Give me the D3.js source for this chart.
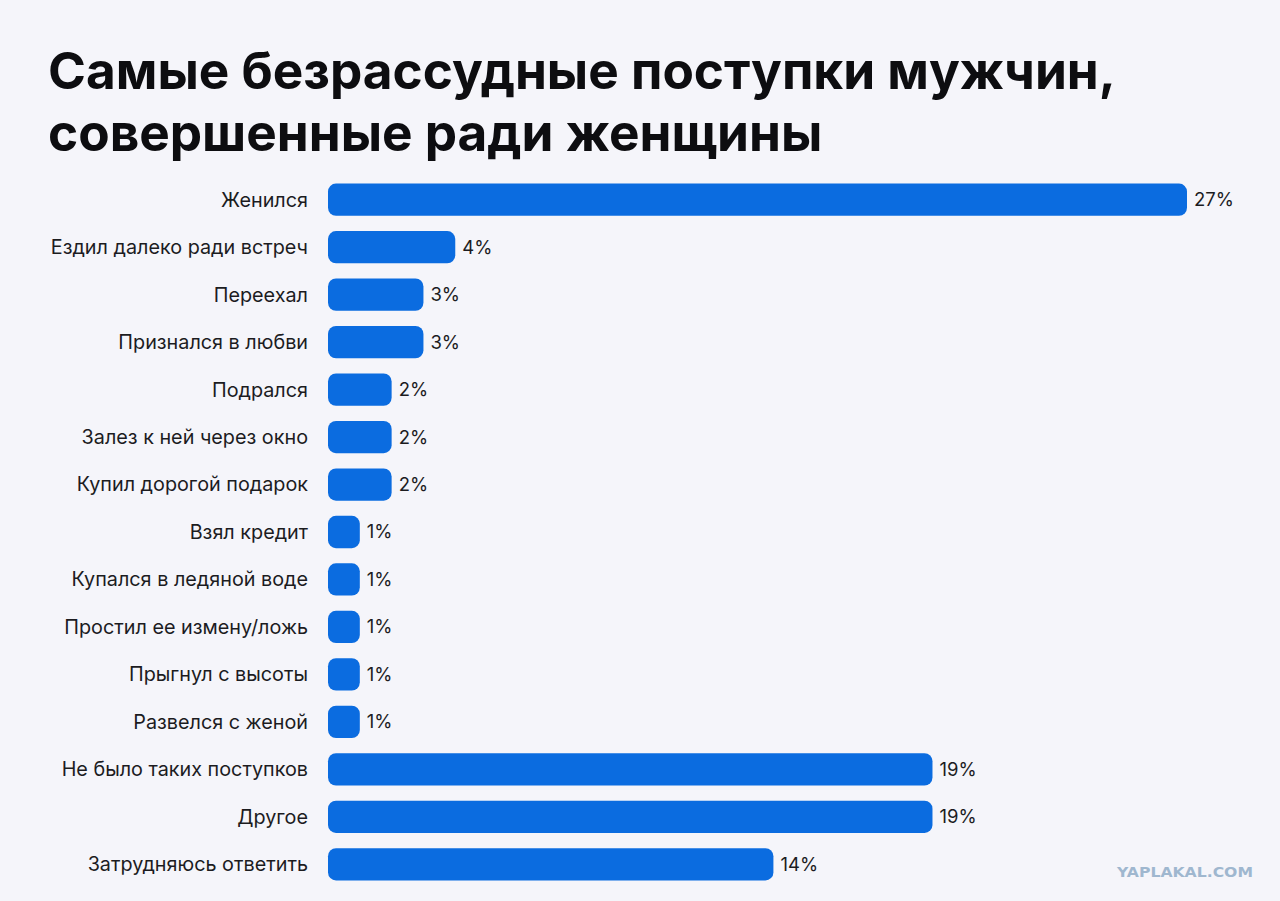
<!DOCTYPE html>
<html>
<head>
<meta charset="utf-8">
<script src="https://cdn.jsdelivr.net/npm/d3@7"></script>
<style>
  html, body { margin: 0; padding: 0; background: #f5f5fa; }
  svg { display: block; }
</style>
</head>
<body>
<div id="chart"></div>
<script>
// Data
const titleLines = ['Самые безрассудные поступки мужчин,', 'совершенные ради женщины'];
const categories = [
  'Женился',
  'Ездил далеко ради встреч',
  'Переехал',
  'Признался в любви',
  'Подрался',
  'Залез к ней через окно',
  'Купил дорогой подарок',
  'Взял кредит',
  'Купался в ледяной воде',
  'Простил ее измену/ложь',
  'Прыгнул с высоты',
  'Развелся с женой',
  'Не было таких поступков',
  'Другое',
  'Затрудняюсь ответить'
];
const values = [27, 4, 3, 3, 2, 2, 2, 1, 1, 1, 1, 1, 19, 19, 14];
const watermark = 'YAPLAKAL.COM';

const width = 1280, height = 901;
const barColor = '#0b6ce0';
const textColor = '#1c1c1f';

const svg = d3.select('#chart')
  .append('svg')
  .attr('width', width)
  .attr('height', height);

svg.append('rect')
  .attr('width', width)
  .attr('height', height)
  .attr('fill', '#f5f5fa');

// Title
svg.append('g')
  .selectAll('text')
  .data(titleLines)
  .enter()
  .append('text')
  .attr('x', 48)
  .attr('y', (d, i) => 89 + i * 62)
  .attr('font-family', 'Inter, "Noto Sans", sans-serif')
  .attr('font-weight', 700)
  .attr('font-size', '51.3px')
  .attr('fill', '#0d0d10')
  .text(d => d);

// Scales
const x = d3.scaleLinear()
  .domain([0, 27])
  .range([328, 1187]);

const y = d3.scaleBand()
  .domain(categories)
  .range([176, 888])
  .paddingInner(0.32)
  .paddingOuter(0.16);

// Category labels
svg.append('g')
  .selectAll('text')
  .data(categories)
  .enter()
  .append('text')
  .attr('x', 308)
  .attr('y', d => y(d) + y.bandwidth() / 2)
  .attr('dy', '0.35em')
  .attr('text-anchor', 'end')
  .attr('font-family', 'Inter, "Noto Sans", sans-serif')
  .attr('font-size', '19.8px')
  .attr('fill', textColor)
  .text(d => d);

// Bars
svg.append('g')
  .selectAll('rect')
  .data(values)
  .enter()
  .append('rect')
  .attr('x', x(0))
  .attr('y', (d, i) => y(categories[i]))
  .attr('width', d => x(d) - x(0))
  .attr('height', y.bandwidth())
  .attr('rx', 8)
  .attr('fill', barColor);

// Value labels
svg.append('g')
  .selectAll('text')
  .data(values)
  .enter()
  .append('text')
  .attr('x', d => x(d) + 7)
  .attr('y', (d, i) => y(categories[i]) + y.bandwidth() / 2)
  .attr('dy', '0.35em')
  .attr('font-family', 'Inter, "Noto Sans", sans-serif')
  .attr('font-size', '18.5px')
  .attr('fill', textColor)
  .text(d => d + '%');

// Watermark
svg.append('text')
  .attr('x', 1117)
  .attr('y', 877)
  .attr('font-family', '"DejaVu Sans", sans-serif')
  .attr('font-weight', 700)
  .attr('font-size', '14px')
  .attr('textLength', 136)
  .attr('lengthAdjust', 'spacingAndGlyphs')
  .attr('fill', '#9fb7cf')
  .text(watermark);
</script>
</body>
</html>
